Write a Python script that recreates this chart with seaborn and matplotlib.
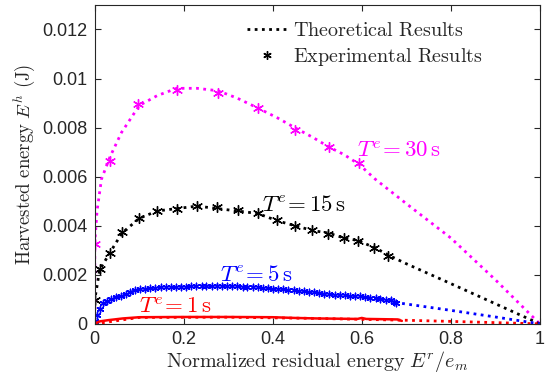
import numpy as np
import pandas as pd
import seaborn as sns
import matplotlib
matplotlib.use("Agg")
import matplotlib.pyplot as plt
from matplotlib.lines import Line2D

# ---------------- data ----------------
# T^e = 30 s
th30_x = [0, 0.0, 0.005, 0.015, 0.034, 0.06, 0.1, 0.14, 0.184, 0.23, 0.277, 0.32, 0.366,
          0.41, 0.449, 0.49, 0.527, 0.56, 0.594, 0.63, 0.7, 0.8, 0.9, 1.0]
th30_y = [0, 0.0033, 0.0046, 0.0059, 0.0068, 0.0078, 0.0089, 0.0093, 0.0096, 0.0096, 0.0095,
          0.0092, 0.0088, 0.0084, 0.0080, 0.0076, 0.0072, 0.0069, 0.0065, 0.0059, 0.0049,
          0.0035, 0.0018, 0.0]
ex30_x = [0.0, 0.034, 0.097, 0.184, 0.277, 0.366, 0.449, 0.527, 0.594]
ex30_y = [0.00325, 0.00665, 0.00898, 0.00955, 0.00942, 0.00878, 0.00792, 0.0072, 0.00656]

# T^e = 15 s
th15_x = [0, 0.0, 0.011, 0.034, 0.061, 0.1, 0.14, 0.185, 0.23, 0.275, 0.32, 0.366, 0.41,
          0.45, 0.49, 0.525, 0.56, 0.59, 0.63, 0.66, 0.7, 0.8, 0.9, 1.0]
th15_y = [0, 0.001, 0.0022, 0.0029, 0.0037, 0.0043, 0.0046, 0.0047, 0.0048, 0.0047, 0.0046,
          0.0045, 0.0042, 0.0040, 0.0038, 0.0037, 0.0035, 0.0034, 0.0031, 0.0028, 0.00245,
          0.00164, 0.00082, 0.0]
ex15_x = [0.0, 0.011, 0.034, 0.061, 0.099, 0.14, 0.185, 0.23, 0.275, 0.321, 0.366, 0.41,
          0.449, 0.487, 0.524, 0.56, 0.592, 0.627, 0.659]
ex15_y = [0.00098, 0.00223, 0.00288, 0.00374, 0.00431, 0.00458, 0.00469, 0.00479, 0.00475,
          0.00465, 0.00452, 0.00424, 0.00397, 0.00384, 0.00367, 0.0035, 0.00339, 0.00309,
          0.00278]

# T^e = 5 s
th5_x = [0, 0.011, 0.03, 0.06, 0.1, 0.17, 0.23, 0.29, 0.36, 0.44, 0.51, 0.59, 0.67, 0.68,
         0.8, 0.9, 1.0]
th5_y = [0, 0.0006, 0.00095, 0.00118, 0.0014, 0.0015, 0.00154, 0.00155, 0.0015, 0.00137,
         0.00124, 0.00112, 0.00097, 0.00086, 0.00055, 0.00028, 0.0]
ex5_x = [0.0, 0.004, 0.011, 0.019, 0.028, 0.037, 0.047, 0.058, 0.069, 0.08,
         0.091, 0.102, 0.113, 0.125, 0.136, 0.148, 0.159, 0.171, 0.182, 0.194,
         0.205, 0.217, 0.228, 0.24, 0.251, 0.263, 0.274, 0.286, 0.297, 0.309,
         0.32, 0.332, 0.343, 0.355, 0.366, 0.378, 0.389, 0.401, 0.412, 0.424,
         0.435, 0.447, 0.458, 0.47, 0.481, 0.493, 0.504, 0.516, 0.527, 0.539,
         0.55, 0.562, 0.573, 0.585, 0.596, 0.608, 0.619, 0.631, 0.642, 0.654,
         0.665, 0.672, 0.678]
ex5_y = [0.0001, 0.00037, 0.00062, 0.00084, 0.00095, 0.00102, 0.00108, 0.00115, 0.00121, 0.00131,
         0.00136, 0.0014, 0.00142, 0.00145, 0.00147, 0.00149, 0.0015, 0.0015, 0.00151, 0.00152,
         0.00152, 0.00153, 0.00154, 0.00154, 0.00155, 0.00155, 0.00155, 0.00155, 0.00154, 0.00155,
         0.00154, 0.00152, 0.00152, 0.0015, 0.00149, 0.00147, 0.00145, 0.00143, 0.00142, 0.0014,
         0.00138, 0.00136, 0.00134, 0.00132, 0.0013, 0.00128, 0.00125, 0.00122, 0.00121, 0.00119,
         0.00118, 0.00116, 0.00115, 0.00113, 0.00112, 0.00109, 0.00107, 0.00104, 0.00101, 0.00098,
         0.00096, 0.0009, 0.00084]

# T^e = 1 s
th1_x = [0, 0.1, 0.3, 0.5, 0.69, 0.8, 0.9, 1.0]
th1_y = [0, 0.00026, 0.00027, 0.00022, 0.00015, 0.0001, 0.00005, 0.0]
ex1_x = [0, 0.005, 0.011, 0.03, 0.063, 0.1, 0.2, 0.3, 0.4, 0.45, 0.5, 0.59, 0.6, 0.61,
         0.68, 0.69]
ex1_y = [0, 0.00005, 0.0001, 0.00015, 0.00022, 0.00027, 0.00028, 0.00028, 0.00027, 0.00024,
         0.00022, 0.0002, 0.00024, 0.0002, 0.00018, 0.00012]

x_ticks = [0, 0.2, 0.4, 0.6, 0.8, 1]
x_ticklabels = ["0", "0.2", "0.4", "0.6", "0.8", "1"]
y_ticks = [0, 0.002, 0.004, 0.006, 0.008, 0.01, 0.012]
y_ticklabels = ["0", "0.002", "0.004", "0.006", "0.008", "0.01", "0.012"]

# ---------------- style ----------------
sns.set_style("ticks")
plt.rcParams["font.family"] = ["Liberation Sans", "DejaVu Sans"]
plt.rcParams["mathtext.fontset"] = "cm"

fig = plt.figure(figsize=(5.48, 3.77), dpi=100)
ax = fig.add_axes([0.173, 0.141, 0.812, 0.846])

dot = (0, (1.0, 1.6))
lw = 2.0
ms_big = 50
mk = (6, 2, 0)

series = [
    (th30_x, th30_y, ex30_x, ex30_y, "#FF00FF", ms_big),
    (th15_x, th15_y, ex15_x, ex15_y, "black", ms_big),
    (th5_x, th5_y, ex5_x, ex5_y, "#0000FF", 22),
]
for tx, ty, exx, exy, col, ms in series:
    sns.lineplot(x=tx, y=ty, ax=ax, color=col, linewidth=lw, linestyle=dot,
                 sort=False, estimator=None)
    sns.scatterplot(x=exx, y=exy, ax=ax, color=col, marker=mk, s=ms,
                    linewidth=1.0, edgecolor=col)

# T=1 s
sns.lineplot(x=th1_x, y=th1_y, ax=ax, color="#FF0000", linewidth=lw, linestyle=dot,
             sort=False, estimator=None)
sns.lineplot(x=ex1_x, y=ex1_y, ax=ax, color="#FF0000", linewidth=1.8,
             sort=False, estimator=None)

# annotations
fs_lab = 16.5
ax.text(0.59, 0.0068, r"$T^e\!=30\,\mathrm{s}$", color="#FF00FF", fontsize=fs_lab)
ax.text(0.375, 0.0046, r"$T^e\!=15\,\mathrm{s}$", color="black", fontsize=fs_lab)
ax.text(0.281, 0.00173, r"$T^e\!=5\,\mathrm{s}$", color="#0000FF", fontsize=fs_lab)
ax.text(0.1, 0.00046, r"$T^e\!=1\,\mathrm{s}$", color="#FF0000", fontsize=fs_lab)

ax.set_xlim(0, 1)
ax.set_ylim(0, 0.013)
ax.set_xticks(x_ticks)
ax.set_xticklabels(x_ticklabels)
ax.set_yticks(y_ticks)
ax.set_yticklabels(y_ticklabels)
ax.tick_params(direction="in", length=4, width=0.8, top=True, right=True,
               labelsize=13, colors="#262626", pad=5)
for sp in ax.spines.values():
    sp.set_visible(True)
    sp.set_linewidth(0.8)
    sp.set_color("#262626")

ax.set_xlabel(r"$\mathrm{Normalized\ residual\ energy}\ E^r/e_m$", fontsize=14.5,
              color="#262626", labelpad=1)
ax.set_ylabel(r"$\mathrm{Harvested\ energy}\ E^h\ \mathrm{(J)}$", fontsize=13.5,
              color="#262626", labelpad=3)

handles = [
    Line2D([], [], color="black", linewidth=lw, linestyle=dot),
    Line2D([], [], color="black", linestyle="none", marker=mk, markersize=6,
           markeredgewidth=1.0),
]
labels = [r"$\mathrm{Theoretical\ Results}$", r"$\mathrm{Experimental\ Results}$"]
ax.legend(handles, labels, loc="upper right", bbox_to_anchor=(0.912, 1.005),
          frameon=False, fontsize=14.5, handlelength=2.0, handletextpad=0.3,
          labelspacing=0.3)

fig.savefig("out.png", dpi=100)
